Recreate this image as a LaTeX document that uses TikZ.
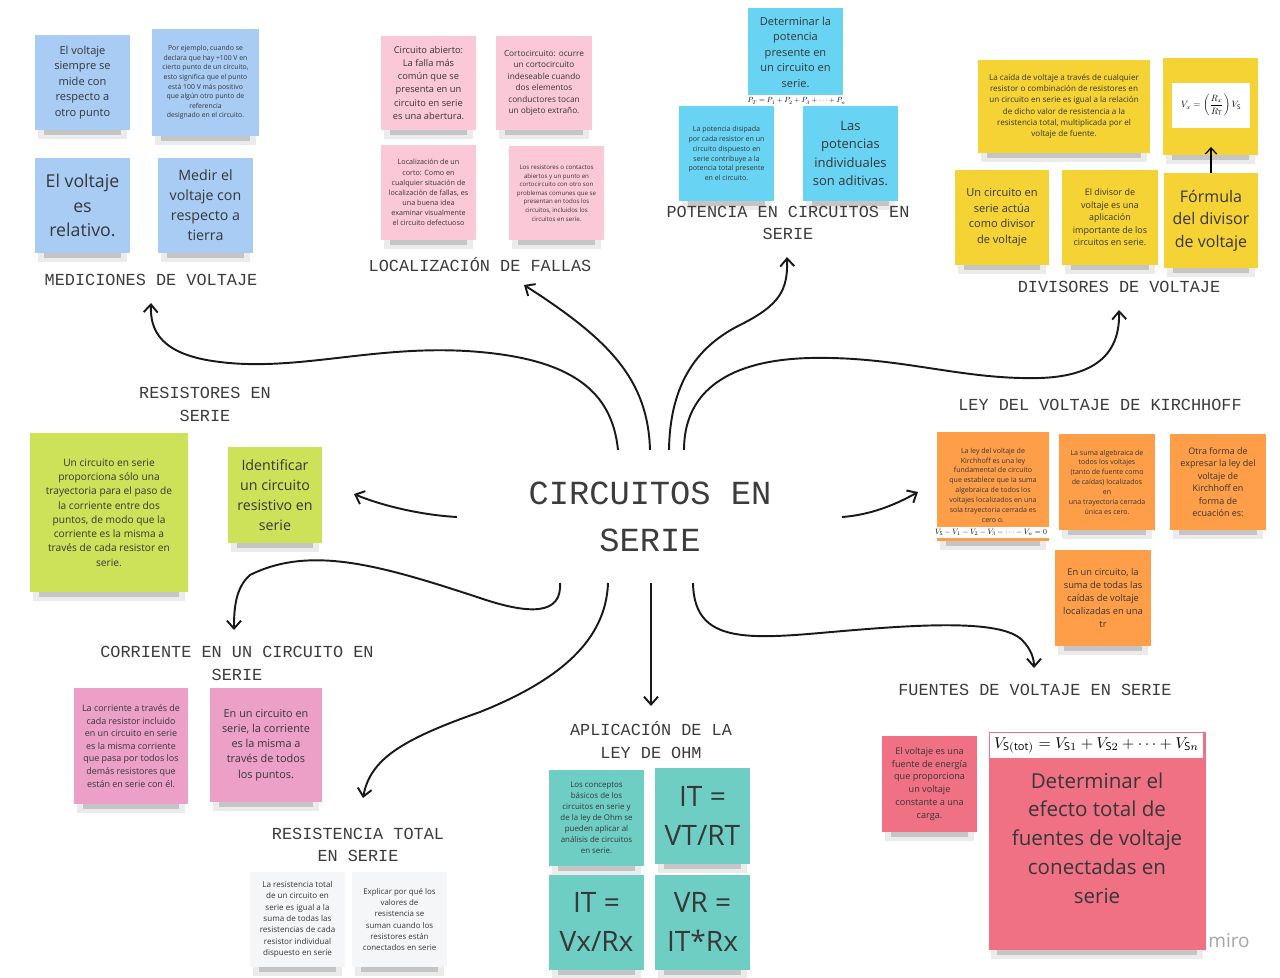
\documentclass[tikz,border=0pt]{standalone}
\usepackage{fontspec}
\setmainfont{Open Sans}
\newfontfamily\topicfont{Liberation Mono}
\usepackage{graphicx}
\usetikzlibrary{arrows.meta,calc}
\pgfdeclarelayer{background}
\pgfsetlayers{background,main}

\definecolor{notaazul}{RGB}{168,204,244}
\definecolor{notarosa}{RGB}{250,200,214}
\definecolor{notacian}{RGB}{104,211,243}
\definecolor{notaamarilla}{RGB}{245,211,52}
\definecolor{notaverde}{RGB}{205,226,88}
\definecolor{notanaranja}{RGB}{255,158,72}
\definecolor{notafucsia}{RGB}{236,160,200}
\definecolor{notaturquesa}{RGB}{110,206,196}
\definecolor{notablanca}{RGB}{245,246,248}
\definecolor{notaroja}{RGB}{240,112,132}
\definecolor{textonota}{RGB}{55,55,55}
\definecolor{textotema}{RGB}{60,60,60}

\newdimen\pxu \pxu=0.02cm
\newcommand{\nsz}[1]{\pgfmathsetlengthmacro\nszskip{1.4*#1pt}\fontsize{#1pt}{\nszskip}\selectfont}

\begin{document}
\begin{tikzpicture}[x=0.02cm, y=-0.02cm,
  nota/.style={rectangle, inner sep=0pt, align=center, text=textonota},
  tema/.style={font=\topicfont\fontsize{9.6pt}{13pt}\selectfont, text=textotema, align=center, inner sep=0pt},
  formula/.style={rectangle, fill=white, inner sep=0pt},
  flecha/.style={line width=1.1pt, draw=black!90, -{Straight Barb[length=4.5pt,width=8pt]}}]
\useasboundingbox (0,0) rectangle (1280,977);

% mediciones de voltaje
\node[nota, fill=notaazul, minimum width=95\pxu, minimum height=95\pxu, font={\nsz{6.3}}] (med1) at (82.5,82.5) {El voltaje\\siempre se\\mide con\\respecto a\\otro punto};
\node[nota, fill=notaazul, minimum width=107\pxu, minimum height=107\pxu, font={\nsz{3.9}}] (med2) at (205.5,82.5) {Por ejemplo, cuando se\\declara que hay +100 V en\\cierto punto de un circuito,\\esto significa que el punto\\está 100 V más positivo\\que algún otro punto de\\referencia\\designado en el circuito.};
\node[nota, fill=notaazul, minimum width=95\pxu, minimum height=95\pxu, font={\nsz{10.1}}] (med3) at (82.5,205.5) {El voltaje\\es\\relativo.};
\node[nota, fill=notaazul, minimum width=95\pxu, minimum height=95\pxu, font={\nsz{8.1}}] (med4) at (205.5,205.5) {Medir el\\voltaje con\\respecto a\\tierra};
\node[tema] (tmed) at (151,280) {MEDICIONES DE VOLTAJE};

% localizacion de fallas
\node[nota, fill=notarosa, minimum width=95\pxu, minimum height=94\pxu, font={\nsz{5.3}}] (falla1) at (428.5,83) {Circuito abierto:\\La falla más\\común que se\\presenta en un\\circuito en serie\\es una abertura.};
\node[nota, fill=notarosa, minimum width=96\pxu, minimum height=94\pxu, font={\nsz{4.7}}] (falla2) at (544,83) {Cortocircuito: ocurre\\un cortocircuito\\indeseable cuando\\dos elementos\\conductores tocan\\un objeto extraño.};
\node[nota, fill=notarosa, minimum width=95\pxu, minimum height=95\pxu, font={\nsz{4.1}}] (falla3) at (428.5,192.5) {Localización de un\\corto: Como en\\cualquier situación de\\localización de fallas, es\\una buena idea\\examinar visualmente\\el circuito defectuoso};
\node[nota, fill=notarosa, minimum width=95\pxu, minimum height=94\pxu, font={\nsz{3.5}}] (falla4) at (556.5,193) {Los resistores o contactos\\abiertos y un punto en\\cortocircuito con otro son\\problemas comunes que se\\presentan en todos los\\circuitos, incluidos los\\circuitos en serie.};
\node[tema] (tfalla) at (480,265) {LOCALIZACIÓN DE FALLAS};

% potencia
\node[nota, fill=notacian, minimum width=95\pxu, minimum height=90\pxu] (pot1) at (795.5,53) {};
\node[nota, font={\nsz{6.3}}] (pot1txt) at (795.5,52) {Determinar la\\potencia\\presente en\\un circuito en\\serie.};
\node[formula, minimum width=103\pxu, minimum height=12\pxu] (potf) at (796.5,101) {\resizebox{98\pxu}{!}{$P_T = P_1 + P_2 + P_3 + \cdots + P_n$}};
\node[nota, fill=notacian, minimum width=95\pxu, minimum height=95\pxu, font={\nsz{4.0}}] (pot2) at (726.5,153.5) {La potencia disipada\\por cada resistor en un\\circuito dispuesto en\\serie contribuye a la\\potencia total presente\\en el circuito.};
\node[nota, fill=notacian, minimum width=95\pxu, minimum height=95\pxu, font={\nsz{7.4}}] (pot3) at (850.5,153.5) {Las\\potencias\\individuales\\son aditivas.};
\node[tema] (tpot) at (788,223) {POTENCIA EN CIRCUITOS EN\\SERIE};

% divisores de voltaje
\node[nota, fill=notaamarilla, minimum width=172\pxu, minimum height=93\pxu, font={\nsz{4.6}}] (div1) at (1064,106.5) {La caída de voltaje a través de cualquier\\resistor o combinación de resistores en\\un circuito en serie es igual a la relación\\de dicho valor de resistencia a la\\resistencia total, multiplicada por el\\voltaje de fuente.};
\node[nota, fill=notaamarilla, minimum width=95\pxu, minimum height=97\pxu] (div2) at (1210.5,106.5) {};
\node[formula, minimum width=78\pxu, minimum height=45\pxu] (divf) at (1211,105.5) {\resizebox{60\pxu}{!}{$V_x = \left(\displaystyle\frac{R_x}{R_\mathrm{T}}\right) V_\mathrm{S}$}};
\node[nota, fill=notaamarilla, minimum width=94\pxu, minimum height=95\pxu, font={\nsz{6.3}}] (div3) at (1002,217.5) {Un circuito en\\serie actúa\\como divisor\\de voltaje};
\node[nota, fill=notaamarilla, minimum width=96\pxu, minimum height=95\pxu, font={\nsz{5.1}}] (div4) at (1110,217.5) {El divisor de\\voltaje es una\\aplicación\\importante de los\\circuitos en serie.};
\node[nota, fill=notaamarilla, minimum width=94\pxu, minimum height=95\pxu, font={\nsz{9.1}}] (div5) at (1211,220.5) {Fórmula\\del divisor\\de voltaje};
\coordinate (divtip) at (1211,147);
\draw[line width=0.7pt, -{Straight Barb[length=3.5pt,width=6.5pt]}] (div5.north) -- (divtip);
\node[tema] (tdiv) at (1119,287) {DIVISORES DE VOLTAJE};

% resistores en serie
\node[nota, fill=notaverde, minimum width=158\pxu, minimum height=159\pxu, font={\nsz{5.8}}] (res1) at (109,512.5) {Un circuito en serie\\proporciona sólo una\\trayectoria para el paso de\\la corriente entre dos\\puntos, de modo que la\\corriente es la misma a\\través de cada resistor en\\serie.};
\node[nota, fill=notaverde, minimum width=94\pxu, minimum height=96\pxu, font={\nsz{8.1}}] (res2) at (275,495) {Identificar\\un circuito\\resistivo en\\serie};
\node[tema] (tres) at (205,404.5) {RESISTORES EN\\SERIE};

% kirchhoff
\node[nota, fill=notanaranja, minimum width=112\pxu, minimum height=109\pxu] (kir1) at (993,486.5) {};
\node[nota, font={\nsz{4.0}}] (kir1txt) at (993,485) {La ley del voltaje de\\Kirchhoff es una ley\\fundamental de circuito\\que establece que la suma\\algebraica de todos los\\voltajes localizados en una\\sola trayectoria cerrada es\\cero o.};
\node[formula, minimum width=116\pxu, minimum height=11\pxu] (kirf) at (991,532) {\resizebox{112\pxu}{!}{$V_\mathrm{S} - V_1 - V_2 - V_3 - \cdots - V_n = 0$}};
\node[nota, fill=notanaranja, minimum width=96\pxu, minimum height=96\pxu, font={\nsz{4.0}}] (kir2) at (1107,482) {La suma algebraica de\\todos los voltajes\\(tanto de fuente como\\de caídas) localizados\\en\\una trayectoria cerrada\\única es cero.};
\node[nota, fill=notanaranja, minimum width=96\pxu, minimum height=96\pxu, font={\nsz{5.1}}] (kir3) at (1218,482) {Otra forma de\\expresar la ley del\\voltaje de\\Kirchhoff en\\forma de\\ecuación es:};
\node[nota, fill=notanaranja, minimum width=96\pxu, minimum height=96\pxu, font={\nsz{5.3}}] (kir4) at (1103,598) {En un circuito, la\\suma de todas las\\caídas de voltaje\\localizadas en una\\tr};
\node[tema] (tkir) at (1100,405) {LEY DEL VOLTAJE DE KIRCHHOFF};

% corriente
\node[nota, fill=notafucsia, minimum width=114\pxu, minimum height=116\pxu, font={\nsz{5.1}}] (cor1) at (131,746) {La corriente a través de\\cada resistor incluido\\en un circuito en serie\\es la misma corriente\\que pasa por todos los\\demás resistores que\\están en serie con él.};
\node[nota, fill=notafucsia, minimum width=112\pxu, minimum height=114\pxu, font={\nsz{6.2}}] (cor2) at (266,745) {En un circuito en\\serie, la corriente\\es la misma a\\través de todos\\los puntos.};
\node[tema] (tcor) at (237,663.5) {CORRIENTE EN UN CIRCUITO EN\\SERIE};

% ley de ohm
\node[nota, fill=notaturquesa, minimum width=95\pxu, minimum height=96\pxu, font={\nsz{4.5}}] (ohm1) at (596.5,818) {Los conceptos\\básicos de los\\circuitos en serie y\\de la ley de Ohm se\\pueden aplicar al\\análisis de circuitos\\en serie.};
\node[nota, fill=notaturquesa, minimum width=95\pxu, minimum height=96\pxu, font={\nsz{16}}] (ohm2) at (702.5,816) {IT =\\VT/RT};
\node[nota, fill=notaturquesa, minimum width=95\pxu, minimum height=95\pxu, font={\nsz{16}}] (ohm3) at (596.5,922) {IT =\\Vx/Rx};
\node[nota, fill=notaturquesa, minimum width=95\pxu, minimum height=95\pxu, font={\nsz{16}}] (ohm4) at (702.5,922) {VR =\\IT*Rx};
\node[tema] (tohm) at (651,740) {APLICACIÓN DE LA\\LEY DE OHM};

% resistencia total
\node[nota, fill=notablanca, minimum width=95\pxu, minimum height=95\pxu, font={\nsz{4.6}}] (rt1) at (297.5,919.5) {La resistencia total\\de un circuito en\\serie es igual a la\\suma de todas las\\resistencias de cada\\resistor individual\\dispuesto en serie};
\node[nota, fill=notablanca, minimum width=95\pxu, minimum height=95\pxu, font={\nsz{4.5}}] (rt2) at (399.5,919.5) {Explicar por qué los\\valores de\\resistencia se\\suman cuando los\\resistores están\\conectados en serie};
\node[tema] (trt) at (358,845) {RESISTENCIA TOTAL\\EN SERIE};

% fuentes de voltaje
\node[nota, fill=notaroja, minimum width=95\pxu, minimum height=96\pxu, font={\nsz{5.2}}] (fte1) at (929.5,784) {El voltaje es una\\fuente de energía\\que proporciona\\un voltaje\\constante a una\\carga.};
\node[nota, fill=notaroja, minimum width=217\pxu, minimum height=218\pxu] (fte2) at (1097,841) {};
\node[nota, font={\nsz{11.7}}] (fte2txt) at (1097,838) {Determinar el\\efecto total de\\fuentes de voltaje\\conectadas en\\serie};
\node[formula, minimum width=213\pxu, minimum height=25\pxu] (ftef) at (1096.5,745.5) {\resizebox{205\pxu}{!}{$V_{\mathrm{S(tot)}} = V_{\mathrm{S}1} + V_{\mathrm{S}2} + \cdots + V_{\mathrm{S}n}$}};
\node[tema] (tfte) at (1035,690) {FUENTES DE VOLTAJE EN SERIE};
\node[text=black!35, font=\fontsize{10.8pt}{13pt}\selectfont, inner sep=0pt] (miro) at (1229,941) {miro};

% centro
\node[tema, font=\topicfont\fontsize{19.2pt}{26.6pt}\selectfont] (titulo) at (650,517) {CIRCUITOS EN\\SERIE};

\coordinate (s1) at (618,450);  \coordinate (e1) at (151,303);
\coordinate (s2) at (650,450);  \coordinate (e2) at (524,285);
\coordinate (s3) at (669,450);  \coordinate (e3) at (787,257);
\coordinate (s4) at (684,450);  \coordinate (e4) at (1119,310);
\coordinate (s5) at (457,517);  \coordinate (e5) at (354,494);
\coordinate (s6) at (842,517);  \coordinate (e6) at (918,492);
\coordinate (s7) at (560,583);  \coordinate (e7) at (234,630);
\coordinate (s8) at (608,583);  \coordinate (e8) at (363,798);
\coordinate (s9) at (651,583);  \coordinate (e9) at (651,706);
\coordinate (s10) at (693,583); \coordinate (e10) at (1034,668);

\draw[flecha] (s1) .. controls (612,390) and (570,360) .. (480,352) .. controls (380,343) and (300,372) .. (220,362) .. controls (160,355) and (150,330) .. (e1);
\draw[flecha] (s2) .. controls (648,380) and (610,340) .. (e2);
\draw[flecha] (s3) .. controls (670,380) and (700,345) .. (740,325) .. controls (780,305) and (788,290) .. (e3);
\draw[flecha] (s4) .. controls (684,390) and (730,360) .. (810,358) .. controls (900,356) and (960,380) .. (1040,378) .. controls (1100,376) and (1120,350) .. (e4);
\draw[flecha] (s5) .. controls (420,515) and (380,505) .. (e5);
\draw[flecha] (s6) .. controls (870,515) and (895,505) .. (e6);
\draw[flecha] (s7) .. controls (562,615) and (530,615) .. (480,598) .. controls (380,565) and (310,545) .. (250,575) .. controls (235,588) and (234,610) .. (e7);
\draw[flecha] (s8) .. controls (606,640) and (560,680) .. (480,712) .. controls (400,740) and (370,760) .. (e8);
\draw[flecha] (s9) -- (e9);
\draw[flecha] (s10) .. controls (694,640) and (740,640) .. (820,633) .. controls (910,625) and (1000,618) .. (1022,640) .. controls (1032,650) and (1034,660) .. (e10);

\begin{pgfonlayer}{background}
\fill[white] (0,0) rectangle (1280,977);
\foreach \n in {med1,med2,med3,med4,falla1,falla2,falla3,falla4,pot2,pot3,div1,div2,div3,div4,div5,res1,res2,kir1,kir2,kir3,kir4,cor1,cor2,ohm1,ohm2,ohm3,ohm4,rt1,rt2,fte1,fte2}{
  \fill[black, opacity=0.08] ($(\n.south west)+(3,-4)$) rectangle ($(\n.south east)+(-3,9)$);
  \fill[black, opacity=0.16] ($(\n.south west)+(9,-4)$) rectangle ($(\n.south east)+(-9,5)$);
}
\end{pgfonlayer}
\end{tikzpicture}
\end{document}
